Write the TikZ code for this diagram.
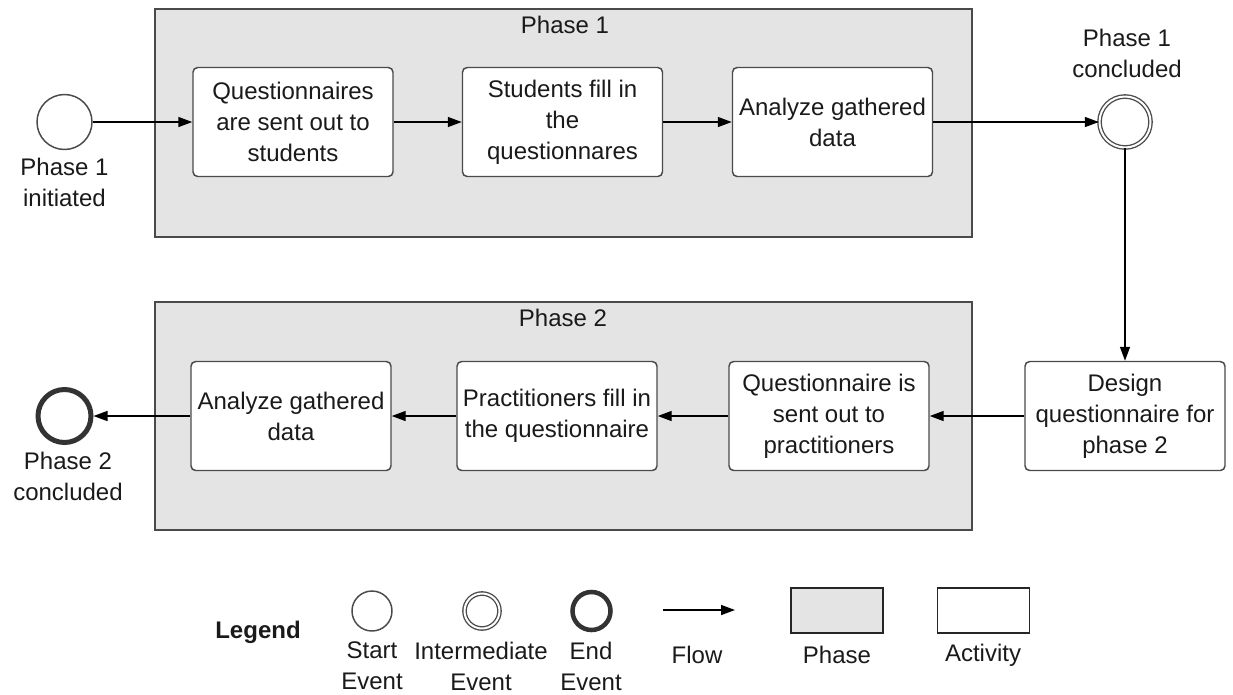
\documentclass[tikz,border=0pt]{standalone}
\usepackage{fontspec}
\setmainfont{Liberation Sans}
\usetikzlibrary{arrows.meta}

\definecolor{linegray}{HTML}{4A4A4A}
\definecolor{phasegray}{HTML}{E4E4E4}
\definecolor{inkblack}{HTML}{1A1A1A}

\tikzset{
  txt/.style={font=\fontsize{18}{23.25}\selectfont, text=inkblack, align=center, inner sep=0pt},
  phasebox/.style={draw=linegray, fill=phasegray, line width=1.1pt,
    minimum width=612.75pt, minimum height=171pt, inner sep=0pt},
  activity/.style={txt, draw=linegray, fill=white, line width=1.1pt, rounded corners=3.5pt,
    minimum width=150pt, minimum height=81.75pt},
  startev/.style={circle, draw=linegray, fill=white, line width=1.1pt, minimum size=41.25pt, inner sep=0pt},
  interev/.style={circle, draw=linegray, double=white, double distance=1.5pt, line width=1pt,
    fill=white, minimum size=38.25pt, inner sep=0pt},
  endev/.style={circle, draw=black!80, fill=white, line width=3.75pt, minimum size=39.75pt, inner sep=0pt},
  flow/.style={-{Triangle[length=10.5pt,width=7.5pt]}, line width=1.1pt, draw=black},
  legbox/.style={draw=black!85, line width=1.3pt, minimum width=69pt, minimum height=33.75pt, inner sep=0pt},
}

\begin{document}
\begin{tikzpicture}[x=0.75pt,y=-0.75pt]
\useasboundingbox (0,0) rectangle (1233,694);

% phases
\node[phasebox] (ph1) at (563.5,123) {};
\node[txt] (ph1lbl) at (565,25) {Phase 1};
\node[phasebox] (ph2) at (563.5,416) {};
\node[txt] (ph2lbl) at (563,318) {Phase 2};

% phase 1 activities
\node[activity] (a1) at (293,122) {Questionnaires\\are sent out to\\students};
\node[activity] (a2) at (562.5,122) {Students fill in\\the\\questionnares};
\node[activity] (a3) at (832.5,122) {Analyze gathered\\data};

% phase 2 activities
\node[activity] (design) at (1125,416) {Design\\questionnaire for\\phase 2};
\node[activity] (b3) at (829,416) {Questionnaire is\\sent out to\\practitioners};
\node[activity] (b2) at (557,416) {Practitioners fill in\\the questionnaire};
\node[activity] (b1) at (291,416) {Analyze gathered\\data};

% events
\node[startev] (start) at (64.5,122) {};
\node[txt] (startlbl) at (64.5,182) {Phase 1\\initiated};
\node[interev] (inter) at (1125,122) {};
\node[txt] (interlbl) at (1127,53) {Phase 1\\concluded};
\node[endev] (end) at (64.5,416) {};
\node[txt] (endlbl) at (68,476) {Phase 2\\concluded};

% flows
\draw[flow] (start) -- (a1);
\draw[flow] (a1) -- (a2);
\draw[flow] (a2) -- (a3);
\draw[flow] (a3) -- (inter);
\draw[flow] (inter) -- (design);
\draw[flow] (design) -- (b3);
\draw[flow] (b3) -- (b2);
\draw[flow] (b2) -- (b1);
\draw[flow] (b1) -- (end);

% legend
\node[txt, font=\fontsize{18}{23.25}\selectfont\bfseries] (leg) at (258,632) {Legend};
\node[startev, minimum size=30pt] (lstart) at (372,611) {};
\node[txt] (lstartlbl) at (372,666) {Start\\Event};
\node[interev, minimum size=26.25pt] (linter) at (482,611) {};
\node[txt] (linterlbl) at (481,666) {Intermediate\\Event};
\node[endev, line width=3.4pt, minimum size=28.5pt] (lend) at (591.5,611) {};
\node[txt] (lendlbl) at (591,666) {End\\Event};
\coordinate (lflowa) at (663,610);
\coordinate (lflowb) at (735,610);
\draw[flow] (lflowa) -- (lflowb);
\node[txt] (lflowlbl) at (697,655) {Flow};
\node[legbox, fill=phasegray] (lphase) at (837,610.5) {};
\node[txt] (lphaselbl) at (837,655) {Phase};
\node[legbox, fill=white] (lact) at (983.5,610.5) {};
\node[txt] (lactlbl) at (983,655) {Activity};
\end{tikzpicture}
\end{document}
